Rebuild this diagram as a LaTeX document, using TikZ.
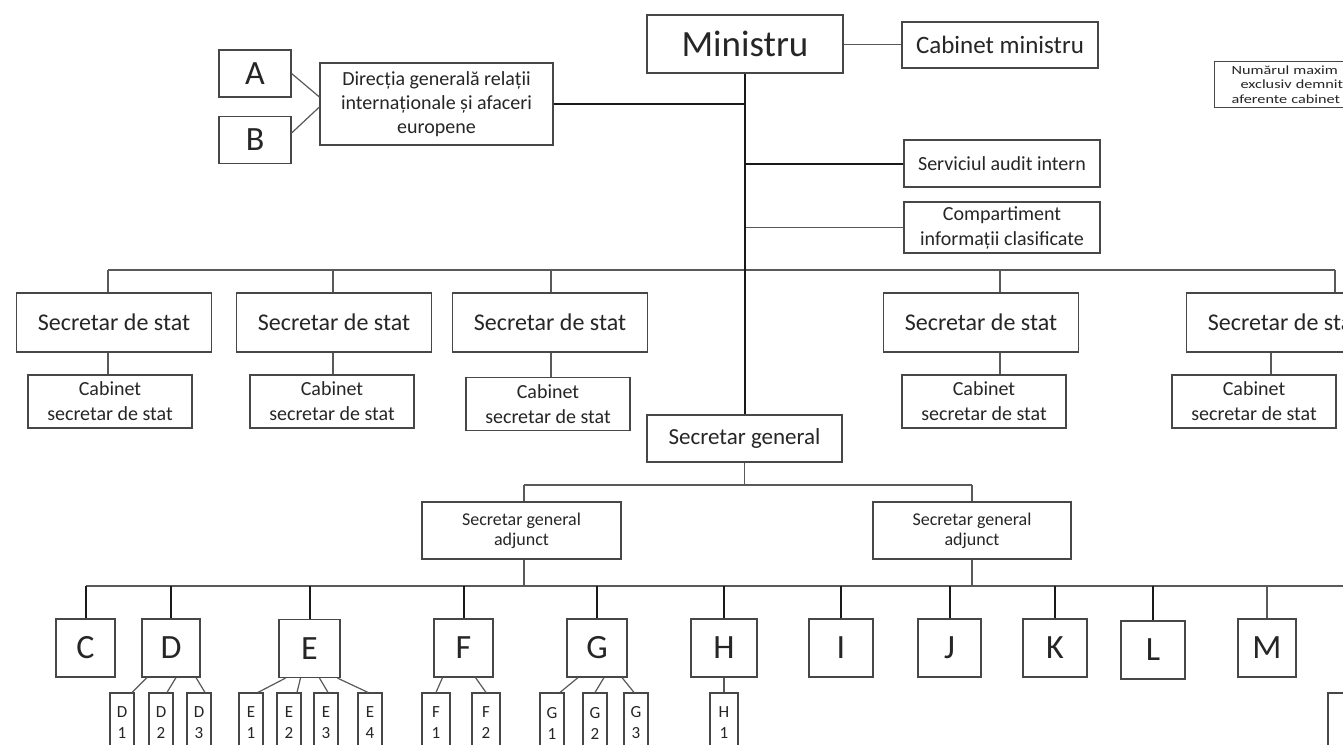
\documentclass[tikz,border=0pt]{standalone}
\usepackage{fontspec}
\setmainfont{Carlito}
\newfontfamily\notefont[FakeStretch=1.3]{Carlito}
\usepackage{tikz}
\usetikzlibrary{calc}
\tikzset{>=latex}

\begin{document}
\begin{tikzpicture}[x=1pt,y=-1pt]
      \tikzstyle{box}=[draw=black!72,line width=1.2pt,fill=white,inner sep=0pt,align=center,text=black!85]
      \tikzstyle{letter}=[box,font=\fontsize{34}{34}\selectfont,minimum width=60,minimum height=58]
      \tikzstyle{sub}=[box,font=\fontsize{17}{21}\selectfont,minimum width=24,minimum height=60]
      \tikzstyle{stat}=[box,font=\fontsize{24}{28}\selectfont,minimum width=195,minimum height=59]
      \tikzstyle{cab}=[box,font=\fontsize{20}{25}\selectfont,minimum width=164,minimum height=53]
      \tikzstyle{heavy}=[line width=2pt,black!90]
      \tikzstyle{link}=[line width=1.2pt,black!65]
      \useasboundingbox (0,0) rectangle (1343,744);
      \clip (0,0) rectangle (1343,744);
      \fill[white] (0,0) rectangle (1343,744);
      %%% Ministru
      \node[box,font=\fontsize{37}{40}\selectfont,minimum width=196,minimum height=58] (min) at (745,44) {Ministru};
      \node[box,font=\fontsize{25}{28}\selectfont,minimum width=196,minimum height=46] (cabmin) at (1000,45) {Cabinet ministru};
      \node[box,font=\notefont\fontsize{12.5}{14.5}\selectfont,anchor=north west,inner xsep=17pt,text width=200,minimum height=46,align=left] (nr) at (1214,61) {Numărul maxim\\\hspace{9pt}exclusiv demnit\\aferente cabinet};
      \draw[link,line width=1pt] (min.east) -- (min.east -| cabmin.west);
      %%% directia
      \node[box,font=\fontsize{34}{34}\selectfont,minimum width=72,minimum height=47] (a) at (255,73.5) {A};
      \node[box,font=\fontsize{34}{34}\selectfont,minimum width=72,minimum height=47] (b) at (255,140) {B};
      \node[box,font=\fontsize{20}{24}\selectfont,minimum width=233,minimum height=82] (dir) at (436.5,104) {Direcția generală relații\\internaționale și afaceri\\europene};
      \draw[link] (a.east) -- ([yshift=7]dir.west);
      \draw[link] ([yshift=7]b.east) -- ([yshift=-3]dir.west);
      \draw[heavy] (dir.east) -- (dir.east -| min.south);
      %%% audit, compartiment
      \node[box,font=\fontsize{20}{24}\selectfont,minimum width=196,minimum height=47] (audit) at (1002,163.5) {Serviciul audit intern};
      \node[box,font=\fontsize{20}{25}\selectfont,minimum width=196,minimum height=51] (compart) at (1002,227.5) {Compartiment\\informații clasificate};
      \draw[heavy] (audit.west) -- (audit.west -| min.south);
      \draw[link,line width=1.6pt] (compart.west) -- (compart.west -| min.south);
      %%% Secretari de stat
      \node[stat] (ss1) at (114,322.5) {Secretar de stat};
      \node[stat] (ss2) at (334,322.5) {Secretar de stat};
      \node[stat] (ss3) at (550,322.5) {Secretar de stat};
      \node[stat] (ss4) at (981,322.5) {Secretar de stat};
      \node[stat] (ss5) at (1284,322.5) {Secretar de stat};
      \node[cab] (cab1) at (110,401.5) {Cabinet\\secretar de stat};
      \node[cab] (cab2) at (332,401.5) {Cabinet\\secretar de stat};
      \node[cab] (cab3) at (548,404) {Cabinet\\secretar de stat};
      \node[cab] (cab4) at (984,401.5) {Cabinet\\secretar de stat};
      \node[cab] (cab5) at (1254,401.5) {Cabinet\\secretar de stat};
      \coordinate (t1) at (108,270);
      \coordinate (t2) at (333,270);
      \coordinate (t3) at (551,270);
      \coordinate (t4) at (1000,270);
      \coordinate (t5) at (1335,270);
      \draw[link] (t1) -- (t5);
      \draw[link] (t1) -- (t1 |- ss1.north);
      \draw[link] (t2) -- (t2 |- ss2.north);
      \draw[link] (t3) -- (t3 |- ss3.north);
      \draw[link] (t4) -- (t4 |- ss4.north);
      \draw[link] (t5) -- (t5 |- ss5.north);
      \draw[link,line width=1.6pt] (t1 |- ss1.south) -- (t1 |- cab1.north);
      \draw[link,line width=1.6pt] (t2 |- ss2.south) -- (t2 |- cab2.north);
      \draw[link,line width=1.6pt] (t3 |- ss3.south) -- (t3 |- cab3.north);
      \draw[link,line width=1.6pt] (t4 |- ss4.south) -- (t4 |- cab4.north);
      \draw[link,line width=1.6pt] ([xshift=-13]ss5.south) -- ([xshift=-13]ss5.south |- cab5.north);
      %%% Secretar general
      \node[box,font=\fontsize{23}{27}\selectfont,minimum width=195,minimum height=47] (sg) at (744.5,438.5) {Secretar general};
      \draw[link,line width=1.6pt,black!90] (min.south) -- (min.south |- sg.north);
      \node[box,font=\fontsize{18}{20}\selectfont,minimum width=199,minimum height=57] (adj1) at (521.5,530.5) {Secretar general\\adjunct};
      \node[box,font=\fontsize{18}{20}\selectfont,minimum width=198,minimum height=57] (adj2) at (972,530.5) {Secretar general\\adjunct};
      \coordinate (g1) at (524,485);
      \coordinate (g2) at (972,485);
      \draw[link] (sg.south) -- (sg.south |- g1);
      \draw[link] (g1) -- (g2);
      \draw[link] (g1) -- (g1 |- adj1.north);
      \draw[link] (g2) -- (g2 |- adj2.north);
      %%% directii
      \coordinate (bb) at (86,586);
      \coordinate (be) at (1343,586);
      \draw[link] (bb) -- (be);
      \draw[link] (g1 |- adj1.south) -- (g1 |- bb);
      \draw[link] (adj2.south) -- (adj2.south |- bb);
      \node[letter,minimum width=59] (c) at (85.5,648) {C};
      \node[letter,minimum width=58] (d) at (171,648) {D};
      \node[letter,minimum width=61] (e) at (309.5,648.5) {E};
      \node[letter,minimum width=59] (f) at (463.5,648) {F};
      \node[letter] (g) at (597,648) {G};
      \node[letter,minimum width=66] (h) at (724,648) {H};
      \node[letter,minimum width=64] (i) at (841,648) {I};
      \node[letter,minimum width=63] (j) at (949.5,648) {J};
      \node[letter,minimum width=64] (k) at (1055,648) {K};
      \node[letter,minimum width=64] (l) at (1153,650) {L};
      \node[letter,minimum width=58] (m) at (1267,648) {M};
      \foreach \n in {c,d,e,f,g,h,i,j,k,l}
        \draw[heavy] (\n.north |- bb) -- (\n.north);
      \draw[link] (m.north |- bb) -- (m.north);
      %%% subdiviziuni
      \node[sub] (d1) at (122,723) {D\\1};
      \node[sub] (d2) at (161,723) {D\\2};
      \node[sub] (d3) at (199,723) {D\\3};
      \node[sub] (e1) at (251,723) {E\\1};
      \node[sub] (e2) at (289,723) {E\\2};
      \node[sub] (e3) at (326,723) {E\\3};
      \node[sub] (e4) at (370,723) {E\\4};
      \node[sub,minimum width=28] (f1) at (436,723) {F\\1};
      \node[sub,minimum width=28] (f2) at (486,723) {F\\2};
      \node[sub] (g1s) at (552,723) {G\\1};
      \node[sub] (g2s) at (595,723) {G\\2};
      \node[sub] (g3s) at (636,723) {G\\3};
      \node[sub,minimum width=28] (h1) at (724,723) {H\\1};
      \node[sub,minimum width=26] (n1) at (1341,723) {};
      \draw[link] ([xshift=-24]d.south) -- ([xshift=10]d1.north);
      \draw[link] ([xshift=5]d.south) -- ([xshift=6]d2.north);
      \draw[link] ([xshift=25]d.south) -- ([xshift=6]d3.north);
      \draw[link] ([xshift=-24]e.south) -- ([xshift=7]e1.north);
      \draw[link] ([xshift=-9]e.south) -- ([xshift=8]e2.north);
      \draw[link] ([xshift=10]e.south) -- ([xshift=2]e3.north);
      \draw[link] ([xshift=28]e.south) -- ([xshift=-2]e4.north);
      \draw[link] ([xshift=-21]f.south) -- (f1.north);
      \draw[link] ([xshift=12]f.south) -- (f2.north);
      \draw[link] ([xshift=-19]g.south) -- ([xshift=8]g1s.north);
      \draw[link] ([xshift=7]g.south) -- (g2s.north);
      \draw[link] ([xshift=25]g.south) -- ([xshift=-2]g3s.north);
      \draw[link] (h.south) -- (h1.north);
\end{tikzpicture}
\end{document}
